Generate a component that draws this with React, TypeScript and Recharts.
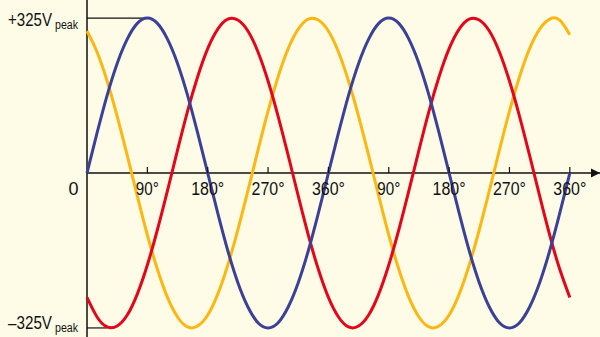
import { LineChart, Line, XAxis, YAxis, ReferenceLine, ReferenceDot } from "recharts";

// phase angle in degrees, two full cycles
const DEGREES = [
  0, 15, 30, 45, 60, 75, 90, 105, 120, 135, 150, 165, 180, 195, 210, 225, 240, 255, 270, 285, 300, 315, 330, 345, 360,
  375, 390, 405, 420, 435, 450, 465, 480, 495, 510, 525, 540, 555, 570, 585, 600, 615, 630, 645, 660, 675, 690, 705, 720,
];

// phase voltages (V)
const BLUE = [
  0, 84, 163, 230, 281, 314, 325, 314, 281, 230, 163, 84, 0, -84, -163, -230, -281, -314, -325, -314, -281, -230, -163, -84, 0,
  84, 163, 230, 281, 314, 325, 314, 281, 230, 163, 84, 0, -84, -163, -230, -281, -314, -325, -314, -281, -230, -163, -84, 0,
];
const RED = [
  -261, -302, -323, -321, -298, -254, -193, -119, -37, 48, 130, 202, 261, 302, 323, 321, 298, 254, 193, 119, 37, -48, -130, -202, -261,
  -302, -323, -321, -298, -254, -193, -119, -37, 48, 130, 202, 261, 302, 323, 321, 298, 254, 193, 119, 37, -48, -130, -202, -261,
];
const YELLOW = [
  298, 254, 193, 119, 37, -48, -130, -202, -261, -302, -323, -321, -298, -254, -193, -119, -37, 48, 130, 202, 261, 302, 323, 321, 298,
  254, 193, 119, 37, -48, -130, -202, -261, -302, -323, -321, -298, -254, -193, -119, -37, 48, 130, 202, 261, 302, 323, 321, 290,
];

const TICK_DEGREES = [90, 180, 270, 360, 450, 540, 630, 720];
const TICK_LABELS = ["90°", "180°", "270°", "360°", "90°", "180°", "270°", "360°"];

const BG = "#fefbe6";
const FONT = "'Liberation Sans', Arial, sans-serif";
const INK = "#111";

const data = DEGREES.map((deg, i) => ({
  deg,
  blue: BLUE[i],
  red: RED[i],
  yellow: YELLOW[i],
}));

// tick mark above the axis with label underneath
const tickShape = (label: string) => (p: any) => (
  <g>
    <line x1={p.cx} y1={p.cy - 6} x2={p.cx} y2={p.cy} stroke={INK} strokeWidth={1.2} />
    <text
      x={p.cx}
      y={p.cy + 22}
      textAnchor="middle"
      fontFamily={FONT}
      fontSize={18}
      fill={INK}
      textLength={label.length === 3 ? 23 : 33}
      lengthAdjust="spacingAndGlyphs"
    >
      {label}
    </text>
  </g>
);

const arrowShape = (p: any) => (
  <polygon points={`${p.cx - 9},${p.cy - 4.5} ${p.cx},${p.cy} ${p.cx - 9},${p.cy + 4.5}`} fill={INK} />
);

const peakLabel = (sign: string, dy: number) => (p: any) => (
  <g fontFamily={FONT} fill={INK}>
    <text x={p.cx - 79} y={p.cy + dy} fontSize={18} textLength={44} lengthAdjust="spacingAndGlyphs">
      {sign}325V
    </text>
    <text x={p.cx - 32} y={p.cy + dy + 3} fontSize={12.5} textLength={23} lengthAdjust="spacingAndGlyphs">
      peak
    </text>
  </g>
);

const zeroLabel = (p: any) => (
  <text x={p.cx - 13.5} y={p.cy + 22} textAnchor="middle" fontFamily={FONT} fontSize={18} fill={INK}>
    0
  </text>
);

export default function App() {
  return (
    <div style={{ position: "absolute", left: 0, top: 0, width: 600, height: 337, background: BG }}>
      <LineChart width={600} height={337} data={data} margin={{ top: 0, right: 0, bottom: 0, left: 87 }}>
        <XAxis type="number" dataKey="deg" domain={[0, 765]} hide />
        <YAxis type="number" domain={[-344, 363]} hide />

        <ReferenceLine x={0} stroke={INK} strokeWidth={1.5} />
        <ReferenceLine y={0} stroke={INK} strokeWidth={1.5} />
        <ReferenceLine segment={[{ x: 0, y: 325 }, { x: 90, y: 325 }]} stroke={INK} strokeWidth={1.2} />
        <ReferenceLine segment={[{ x: 0, y: -325 }, { x: 30, y: -325 }]} stroke={INK} strokeWidth={1.2} />

        <Line type="natural" dataKey="yellow" stroke="#fcb712" strokeWidth={3} dot={false} isAnimationActive={false} />
        <Line type="natural" dataKey="red" stroke="#e3061b" strokeWidth={3} dot={false} isAnimationActive={false} />
        <Line type="natural" dataKey="blue" stroke="#3b4197" strokeWidth={3} dot={false} isAnimationActive={false} />

        {TICK_DEGREES.map((d, i) => (
          <ReferenceDot key={d} x={d} y={0} ifOverflow="visible" shape={tickShape(TICK_LABELS[i])} />
        ))}
        <ReferenceDot x={765} y={0} ifOverflow="visible" shape={arrowShape} />
        <ReferenceDot x={0} y={0} ifOverflow="visible" shape={zeroLabel} />
        <ReferenceDot x={0} y={325} ifOverflow="visible" shape={peakLabel("+", 8)} />
        <ReferenceDot x={0} y={-325} ifOverflow="visible" shape={peakLabel("–", 1)} />
      </LineChart>
    </div>
  );
}
